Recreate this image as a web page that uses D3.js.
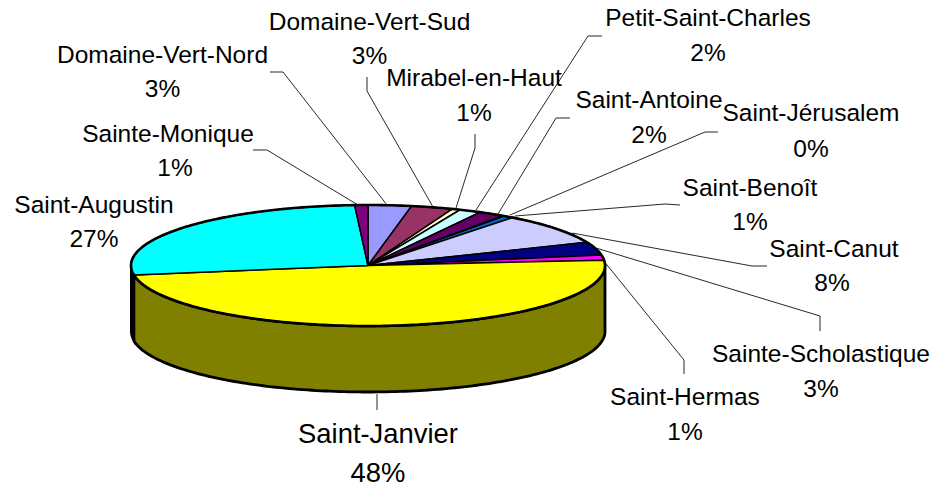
<!DOCTYPE html>
<html><head><meta charset="utf-8">
<script src="https://cdn.jsdelivr.net/npm/d3@7"></script>
<style>html,body{margin:0;background:#fff;overflow:hidden}svg{display:block}text{font-family:"Liberation Sans",Arial,sans-serif;fill:#000}</style>
</head><body><script>
const categories=["Domaine-Vert-Nord","Domaine-Vert-Sud","Mirabel-en-Haut","Petit-Saint-Charles","Saint-Antoine","Saint-Jérusalem","Saint-Benoît","Saint-Canut","Sainte-Scholastique","Saint-Hermas","Saint-Janvier","Saint-Augustin","Sainte-Monique"];
const values=[2.95,2.85,0.55,1.5,1.8,0.1,0.7,8.3,3.45,1.4,48.9,26.6,0.9];
const percentLabels=["3%","3%","1%","2%","2%","0%","1%","8%","3%","1%","48%","27%","1%"];
const colors=["#9999ff","#993366","#ffffcc","#ccffff","#660066","#ff8080","#0066cc","#ccccff","#000080","#ff00ff","#ffff00","#00ffff","#800080"];
const sideColor="#808000";
// label layout: text centre x, baselines, leader polyline
const labelX=[162.5,369.5,474,708,649,811,750,834,821,685,378,94,168];
const labelY=[63,30,86,26,108,121,196,257,362,405,443,213,142];
const percentY=[97,64,121,61,143,157,230,291,397,440,482,247,176];
const percentX=[162.5,369.5,474,708,649,811,750,832,821,685,378,94,175];
const leaders=[[[270,72],[283,72],[387,205]],[[367,77],[367,91],[433,207]],[[475,134],[475,148],[456,208]],[[602,36],[588,36],[476,210]],[[570,118],[556,118],[498,214]],[[718,132],[705,132],[510,215]],[[680,205],[665,204],[515,216]],[[767,266],[752,266],[572,233]],[[820,331],[820,316],[596,248]],[[684,374],[684,360],[603,260]],[[377,410],[377,394]],null,[[253,150],[267,150],[358,205]]];
const W=933,H=487,cx=368,cy=265.5,rx=237,ry=60.5,depth=66;
const svg=d3.select("body").append("svg").attr("width",W).attr("height",H);
const pie=d3.pie().sort(null).value(d=>d)(values);
const ex=a=>cx+rx*Math.sin(a), ey=a=>cy-ry*Math.cos(a);
const line=d3.line();
function arcPts(a0,a1,dy=0){const n=Math.max(2,Math.ceil(Math.abs(a1-a0)/0.02));return d3.range(n+1).map(i=>{const a=a0+(a1-a0)*i/n;return[ex(a),ey(a)+dy];});}
const front0=Math.PI/2,front1=3*Math.PI/2;
const yellow=pie[10];
const sA=Math.max(yellow.startAngle,front0),sB=Math.min(yellow.endAngle,front1);
// side wall
svg.append("path").attr("d",line([...arcPts(sB,front1),...arcPts(front1,sB,depth)])+"Z").attr("fill","#000").attr("stroke","#000").attr("stroke-width",2);
svg.append("path").attr("d",line([...arcPts(front0,sA),...arcPts(sA,front0,depth)])+"Z").attr("fill",sideColor).attr("stroke","#000").attr("stroke-width",2);
svg.append("path").attr("d",line([...arcPts(sA,sB),...arcPts(sB,sA,depth)])+"Z").attr("fill",sideColor).attr("stroke","#000").attr("stroke-width",2.8).attr("stroke-linejoin","round");
// top
svg.append("g").selectAll("path").data(pie).join("path")
 .attr("d",d=>line([[cx,cy],...arcPts(d.startAngle,d.endAngle)])+"Z")
 .attr("fill",(d,i)=>colors[i]).attr("stroke","#000").attr("stroke-width",1.5).attr("stroke-linejoin","round");
svg.append("path").attr("d",line(arcPts(0,2*Math.PI))+"Z").attr("fill","none").attr("stroke","#000").attr("stroke-width",2.6);
// leaders
svg.append("g").selectAll("path").data(leaders.filter(Boolean)).join("path")
 .attr("d",d=>line(d)).attr("fill","none").attr("stroke","#111").attr("stroke-width",0.9);
// labels
const g=svg.append("g").attr("text-anchor","middle");
categories.forEach((c,i)=>{const fs=i===10?27.4:24.5;
 g.append("text").attr("x",labelX[i]).attr("y",labelY[i]).attr("font-size",fs).text(c);
 g.append("text").attr("x",percentX[i]).attr("y",percentY[i]).attr("font-size",fs).text(percentLabels[i]);});
</script></body></html>
